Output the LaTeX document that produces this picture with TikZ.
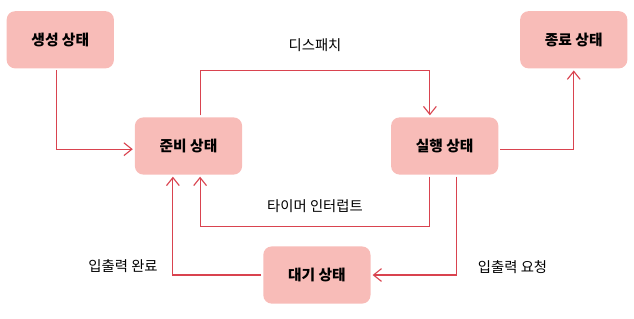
\documentclass[tikz,border=0pt]{standalone}
\usepackage{fontspec}
\setmainfont{Noto Sans CJK KR}
\usepackage{xcolor}
\usepackage{tikz}
\usetikzlibrary{arrows.meta,positioning}

\definecolor{statefill}{HTML}{F8BCB8}
\definecolor{linered}{HTML}{D9434F}

\begin{document}
\begin{tikzpicture}[
  node distance=1.2cm and 1.2cm,
  state/.style={rectangle,rounded corners=6pt,fill=statefill,minimum width=2.68cm,minimum height=1.43cm,font=\fontsize{10.5}{12}\selectfont\bfseries,align=center,outer sep=1.5pt},
  lbl/.style={font=\fontsize{10.2}{12}\selectfont,text=black},
  arr/.style={-{Straight Barb[length=2mm,width=3.2mm]},draw=linered,line width=0.8pt}
]
\useasboundingbox (-4.7125,-4.325) rectangle (11.1375,3.65);

\node[state] (ready) {준비 상태};
\node[state,right=3.62cm of ready] (run) {실행 상태};
\node[state,above left=1.12cm and 0.42cm of ready] (new) {생성 상태};
\node[state,above right=1.12cm and 0.44cm of run] (exit) {종료 상태};
\node[state,below=1.69cm of ready,xshift=3.21cm] (wait) {대기 상태};

\draw[arr] ([xshift=-0.09cm]new.south) |- ([yshift=-0.08cm]ready.west);
\draw[arr] ([xshift=0.29cm]ready.north) -- ++(0,1.13) -| node[lbl,pos=0.25,above=0.33cm] {디스패치} ([xshift=-0.37cm]run.north);
\draw[arr] ([yshift=-0.08cm]run.east) -| (exit.south);
\draw[arr] ([xshift=-0.37cm]run.south) -- ++(0,-1.25) -| node[lbl,pos=0.25,above=0.22cm] {타이머 인터럽트} ([xshift=0.29cm]ready.south);
\draw[arr] ([xshift=0.3cm]run.south) |- node[lbl,pos=0.46,right=0.4cm] {입출력 요청} (wait.east);
\draw[arr] (wait.west) -| node[lbl,pos=0.545,left=0.25cm] {입출력 완료} ([xshift=-0.39cm]ready.south);

\end{tikzpicture}
\end{document}
